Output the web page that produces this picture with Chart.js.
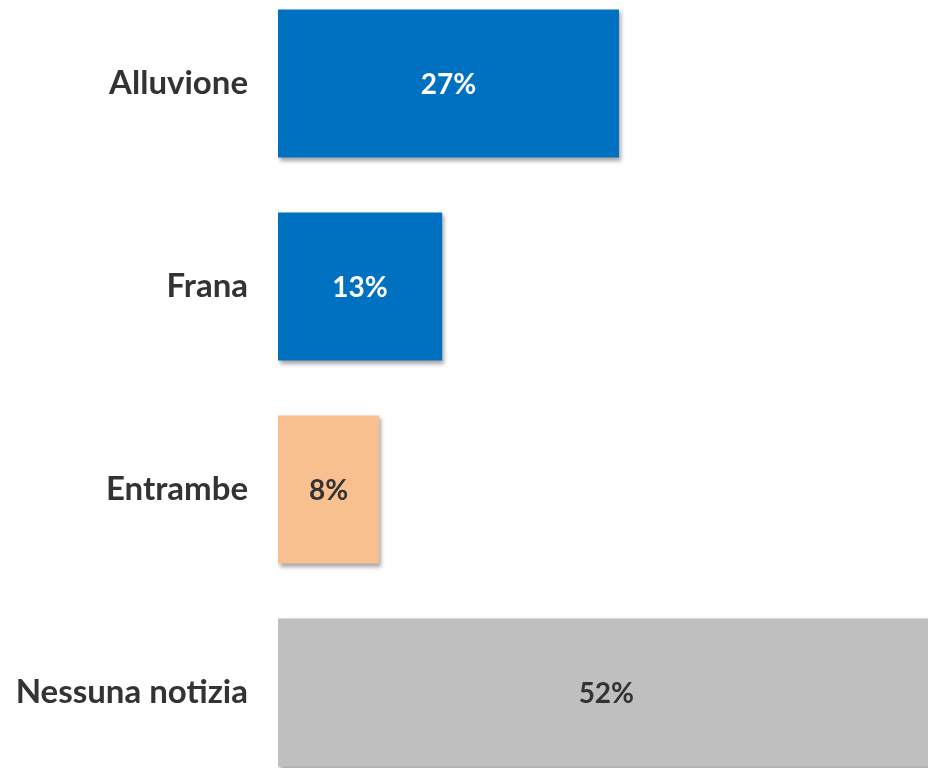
<!DOCTYPE html>
<html lang="it">
<head>
  <meta charset="UTF-8">
  <title>Alluvione / Frana</title>
  <script src="https://cdn.jsdelivr.net/npm/chart.js"></script>
  <style>
    html, body { margin: 0; padding: 0; background: #fff; overflow: hidden; }
    #wrap { position: absolute; left: 0; top: -18px; width: 928px; height: 812px; }
  </style>
</head>
<body>
  <div id="wrap">
    <canvas id="barChart"></canvas>
  </div>

  <script>
    // dati
    const categories = ['Alluvione', 'Frana', 'Entrambe', 'Nessuna notizia'];
    const values = [27, 13, 8, 52];
    const barColors = ['#0070C0', '#0070C0', '#F9C08F', '#BFBFBF'];
    const valueLabelColors = ['#FFFFFF', '#FFFFFF', '#333333', '#333333'];

    const fontFamily = 'Lato, "Open Sans", sans-serif';

    // ombra sotto le barre
    const shadowPlugin = {
      id: 'barShadow',
      beforeDatasetsDraw(chart) {
        const ctx = chart.ctx;
        ctx.save();
        ctx.shadowColor = 'rgba(0, 0, 0, 0.35)';
        ctx.shadowBlur = 4;
        ctx.shadowOffsetX = 2;
        ctx.shadowOffsetY = 3;
      },
      afterDatasetsDraw(chart) {
        chart.ctx.restore();
      }
    };

    // etichette percentuali al centro della barra
    const valueLabelPlugin = {
      id: 'valueLabels',
      afterDraw(chart) {
        const ctx = chart.ctx;
        const meta = chart.getDatasetMeta(0);
        ctx.save();
        ctx.font = 'bold 28px ' + fontFamily;
        ctx.textAlign = 'center';
        ctx.textBaseline = 'middle';
        meta.data.forEach((bar, i) => {
          ctx.fillStyle = valueLabelColors[i];
          ctx.fillText(values[i] + '%', (bar.base + bar.x) / 2, bar.y + 1);
        });
        ctx.restore();
      }
    };

    const ctxBar = document.getElementById('barChart').getContext('2d');
    new Chart(ctxBar, {
      type: 'bar',
      data: {
        labels: categories,
        datasets: [{
          data: values,
          backgroundColor: barColors,
          borderWidth: 0,
          categoryPercentage: 1,
          barPercentage: 0.73
        }]
      },
      options: {
        indexAxis: 'y',
        responsive: true,
        maintainAspectRatio: false,
        animation: false,
        layout: { padding: 0 },
        plugins: {
          legend: { display: false },
          tooltip: { enabled: false }
        },
        scales: {
          x: {
            display: false,
            min: 0,
            max: 51.47
          },
          y: {
            afterFit(scale) {
              scale.width = 278;
              scale.paddingTop = 0;
              scale.paddingBottom = 0;
            },
            grid: { display: false, drawTicks: false },
            border: { display: false },
            ticks: {
              padding: 30,
              color: '#333333',
              font: { family: fontFamily, size: 33, weight: 'bold' }
            }
          }
        }
      },
      plugins: [shadowPlugin, valueLabelPlugin]
    });
  </script>
</body>
</html>
